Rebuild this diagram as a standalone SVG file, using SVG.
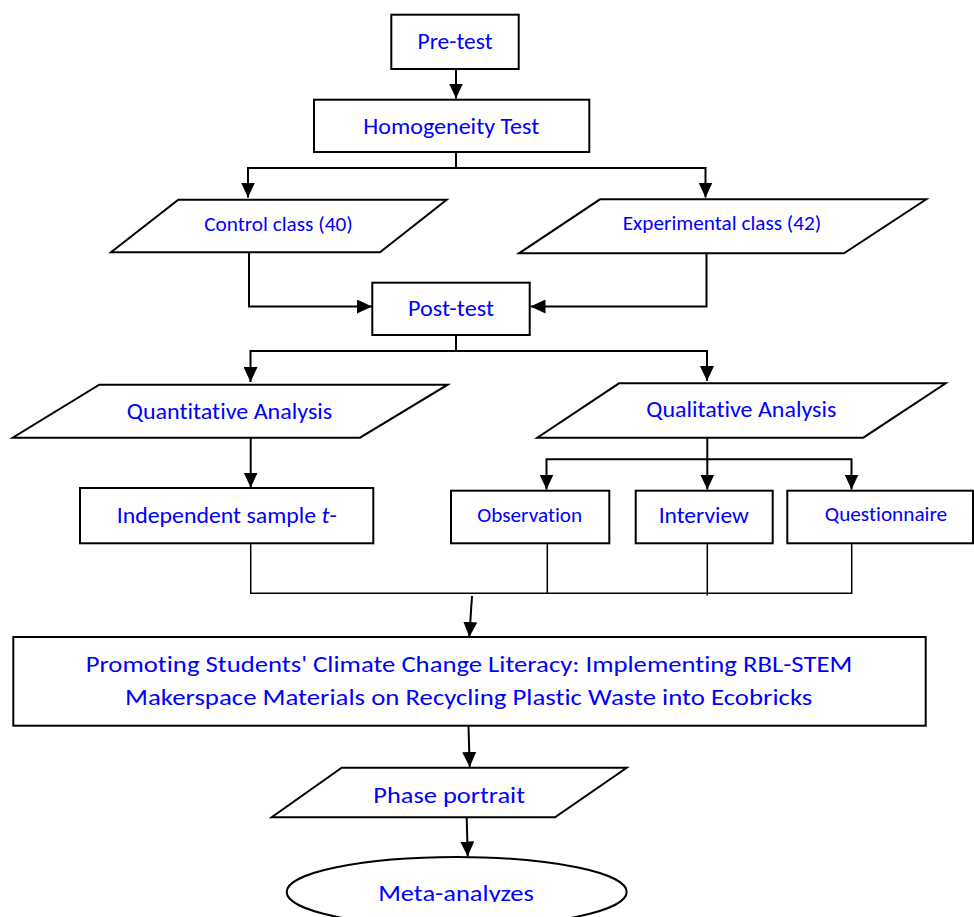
<svg xmlns="http://www.w3.org/2000/svg" width="974" height="917" viewBox="0 0 974 917">
  <style>
    .box { fill: #ffffff; stroke: #000000; stroke-width: 2; }
    .lbl { font-family: Carlito, Lato, "Open Sans", sans-serif; fill: #0000ff; text-anchor: middle; font-variant-ligatures: none; }
    .l24 { font-size: 22px; }
    .l16 { font-size: 19.5px; }
    .conn { fill: none; stroke: #000000; stroke-width: 2; }
    .join { fill: none; stroke: #000000; stroke-width: 1.5; }
  </style>
  <defs>
    <marker id="arrow" viewBox="0 0 15 14" refX="15" refY="7" markerWidth="15" markerHeight="14" markerUnits="userSpaceOnUse" orient="auto">
      <path d="M0,0 L15,7 L0,14 Z" fill="#000000"/>
    </marker>
    <clipPath id="metaClip">
      <rect x="280" y="860" width="360" height="42"/>
    </clipPath>
  </defs>

  <rect x="0" y="0" width="974" height="917" fill="#ffffff"/>

  <!-- connectors -->
  <g id="connectors">
    <path class="conn" d="M456,69 V98.5" marker-end="url(#arrow)"/>
    <path class="conn" d="M456,152 V168 H248 V197.5" marker-end="url(#arrow)"/>
    <path class="conn" d="M456,168 H705.5 V197.5" marker-end="url(#arrow)"/>
    <path class="conn" d="M249,252.5 V306.5 H372" marker-end="url(#arrow)"/>
    <path class="conn" d="M706.5,253.5 V306.5 H530.5" marker-end="url(#arrow)"/>
    <path class="conn" d="M456,335 V351 H250.5 V382" marker-end="url(#arrow)"/>
    <path class="conn" d="M456,351 H707 V381" marker-end="url(#arrow)"/>
    <path class="conn" d="M250.7,437.7 V487.5" marker-end="url(#arrow)"/>
    <path class="conn" d="M707.3,437.7 V459.3 H546.5 V489.5" marker-end="url(#arrow)"/>
    <path class="conn" d="M707.3,459.3 V489.5" marker-end="url(#arrow)"/>
    <path class="conn" d="M707.3,459.3 H851.5 V489.5" marker-end="url(#arrow)"/>
    <path class="join" d="M250.7,543.3 V593.3 H851.7 V543.3"/>
    <path class="join" d="M547.3,543.3 V593.3"/>
    <path class="join" d="M707.3,543.3 V595.5"/>
    <path class="conn" d="M472,596 L469.3,637" marker-end="url(#arrow)"/>
    <path class="conn" d="M468.5,726 L469.7,767" marker-end="url(#arrow)"/>
    <path class="conn" d="M466.7,817.5 L467.7,856.5" marker-end="url(#arrow)"/>
  </g>

  <!-- nodes -->
  <g id="pre-test">
    <rect class="box" x="391.3" y="14.7" width="127.4" height="54.3"/>
    <text class="lbl l24" x="455" y="49" textLength="75" lengthAdjust="spacingAndGlyphs">Pre-test</text>
  </g>

  <g id="homogeneity-test">
    <rect class="box" x="314" y="99.7" width="275.3" height="52.3"/>
    <text class="lbl l24" x="451.3" y="133.5" textLength="176" lengthAdjust="spacingAndGlyphs">Homogeneity Test</text>
  </g>

  <g id="control-class">
    <polygon class="box" points="178.3,199.7 446.7,199.7 380,252.3 111,252.3"/>
    <text class="lbl l16" x="278.4" y="231" textLength="148.5" lengthAdjust="spacingAndGlyphs">Control class (40)</text>
  </g>

  <g id="experimental-class">
    <polygon class="box" points="600,199.3 926.3,199.3 844,253.3 519,253.3"/>
    <text class="lbl l16" x="722" y="230" textLength="198.5" lengthAdjust="spacingAndGlyphs">Experimental class (42)</text>
  </g>

  <g id="post-test">
    <rect class="box" x="372.3" y="282.7" width="157.4" height="52.3"/>
    <text class="lbl l24" x="451" y="316" textLength="86" lengthAdjust="spacingAndGlyphs">Post-test</text>
  </g>

  <g id="quantitative-analysis">
    <polygon class="box" points="99.3,384.7 447.7,384.7 360,437.7 12.7,437.7"/>
    <text class="lbl l24" x="229.5" y="419.3" textLength="205.5" lengthAdjust="spacingAndGlyphs">Quantitative Analysis</text>
  </g>

  <g id="qualitative-analysis">
    <polygon class="box" points="619,383.3 945.7,383.3 863.3,437.7 537.3,437.7"/>
    <text class="lbl l24" x="741.3" y="416.7" textLength="190" lengthAdjust="spacingAndGlyphs">Qualitative Analysis</text>
  </g>

  <g id="independent-t-test">
    <rect class="box" x="80" y="488" width="293.3" height="55.3"/>
    <text class="lbl l24" x="226.7" y="523.3" textLength="220" lengthAdjust="spacingAndGlyphs">Independent sample <tspan font-style="italic">t</tspan>-</text>
  </g>

  <g id="observation">
    <rect class="box" x="451" y="490.7" width="158.3" height="52.6"/>
    <text class="lbl l16" x="529.7" y="521.7" textLength="105" lengthAdjust="spacingAndGlyphs">Observation</text>
  </g>

  <g id="interview">
    <rect class="box" x="635.7" y="490.7" width="137" height="52.6"/>
    <text class="lbl l24" x="703.8" y="523.3" textLength="90.3" lengthAdjust="spacingAndGlyphs">Interview</text>
  </g>

  <g id="questionnaire">
    <rect class="box" x="787.3" y="490.7" width="185.7" height="52.6"/>
    <text class="lbl l16" x="886" y="520.7" textLength="122.3" lengthAdjust="spacingAndGlyphs">Questionnaire</text>
  </g>

  <g id="title">
    <rect class="box" x="13.3" y="637" width="912.4" height="88.7"/>
    <text class="lbl l24" x="469" y="671.7" textLength="766.6" lengthAdjust="spacingAndGlyphs">Promoting Students' Climate Change Literacy: Implementing RBL-STEM</text>
    <text class="lbl l24" x="468.7" y="705" textLength="687.3" lengthAdjust="spacingAndGlyphs">Makerspace Materials on Recycling Plastic Waste into Ecobricks</text>
  </g>

  <g id="phase-portrait">
    <polygon class="box" points="341.7,767.7 626.7,767.7 555,817.3 271.7,817.3"/>
    <text class="lbl l24" x="449.2" y="803.3" textLength="151.7" lengthAdjust="spacingAndGlyphs">Phase portrait</text>
  </g>

  <g id="meta-analyzes">
    <ellipse class="box" cx="456.7" cy="892" rx="170" ry="35"/>
    <text class="lbl l24" x="456" y="901" textLength="155.7" lengthAdjust="spacingAndGlyphs" clip-path="url(#metaClip)">Meta-analyzes</text>
  </g>
</svg>
